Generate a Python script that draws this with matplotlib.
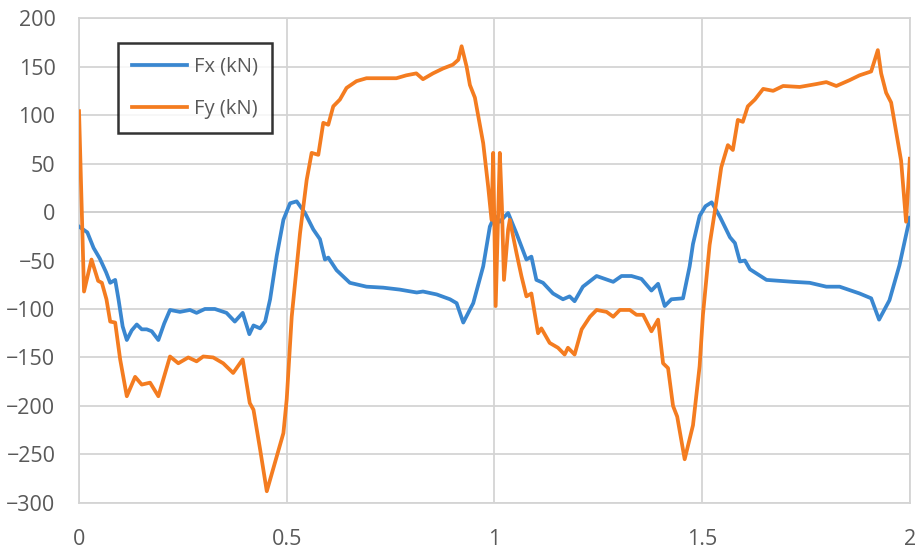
import matplotlib
matplotlib.use('Agg')
import matplotlib.pyplot as plt

plt.rcParams['font.family'] = ['Open Sans', 'DejaVu Sans']

# Fx (kN) - time / value pairs
fx_t = [0.0, 0.02, 0.035, 0.05, 0.065, 0.075, 0.087, 0.095, 0.105, 0.115,
        0.127, 0.139, 0.151, 0.163, 0.175, 0.191, 0.205, 0.219, 0.243, 0.267,
        0.283, 0.303, 0.327, 0.355, 0.375, 0.394, 0.41, 0.42, 0.436, 0.448,
        0.46, 0.476, 0.492, 0.508, 0.524, 0.544, 0.564, 0.58, 0.592, 0.6,
        0.62, 0.652, 0.692, 0.732, 0.772, 0.813, 0.828, 0.861, 0.893, 0.909,
        0.925, 0.949, 0.973, 0.989, 1.001, 1.013, 1.033, 1.053, 1.077, 1.089,
        1.101, 1.117, 1.141, 1.165, 1.181, 1.193, 1.213, 1.246, 1.286, 1.306,
        1.33, 1.354, 1.378, 1.394, 1.41, 1.426, 1.454, 1.47, 1.478, 1.494,
        1.508, 1.523, 1.543, 1.567, 1.579, 1.591, 1.603, 1.615, 1.655, 1.719,
        1.759, 1.799, 1.831, 1.879, 1.907, 1.926, 1.951, 1.975, 2.0]
fx_v = [-15, -21, -37, -48, -62, -73, -70, -90, -118, -132,
        -122, -116, -121, -121, -123, -132, -115, -101, -103, -101,
        -104, -100, -100, -104, -113, -104, -126, -117, -120, -113,
        -90, -45, -8, 9, 11, -1, -18, -28, -49, -47,
        -60, -73, -77, -78, -80, -83, -82, -85, -90, -94,
        -114, -94, -56, -15, -4, -10, -1, -22, -49, -46,
        -70, -73, -84, -90, -87, -92, -77, -66, -72, -66,
        -66, -69, -81, -74, -97, -90, -89, -56, -33, -4,
        6, 10, -5, -26, -32, -51, -50, -59, -70, -72,
        -73, -77, -77, -84, -89, -111, -91, -55, -6]

# Fy (kN)
fy_t = [0.0, 0.012, 0.03, 0.046, 0.055, 0.066, 0.075, 0.087, 0.099, 0.115,
        0.135, 0.151, 0.171, 0.191, 0.219, 0.239, 0.263, 0.283, 0.299, 0.323,
        0.347, 0.371, 0.394, 0.411, 0.42, 0.436, 0.452, 0.476, 0.492, 0.5,
        0.512, 0.532, 0.548, 0.56, 0.576, 0.588, 0.6, 0.612, 0.628, 0.644,
        0.668, 0.692, 0.732, 0.764, 0.788, 0.812, 0.828, 0.852, 0.876, 0.9,
        0.913, 0.921, 0.933, 0.941, 0.953, 0.973, 0.985, 0.993, 0.997, 1.003,
        1.013, 1.018, 1.023, 1.033, 1.037, 1.053, 1.065, 1.077, 1.089, 1.105,
        1.113, 1.133, 1.153, 1.169, 1.177, 1.193, 1.21, 1.23, 1.246, 1.27,
        1.286, 1.302, 1.326, 1.342, 1.358, 1.378, 1.394, 1.406, 1.418, 1.43,
        1.44, 1.458, 1.478, 1.494, 1.502, 1.518, 1.534, 1.546, 1.562, 1.574,
        1.586, 1.598, 1.61, 1.627, 1.647, 1.671, 1.695, 1.735, 1.775, 1.799,
        1.823, 1.855, 1.879, 1.907, 1.923, 1.931, 1.943, 1.955, 1.979, 1.991,
        2.0]
fy_v = [104, -82, -49, -71, -73, -90, -113, -114, -152, -190,
        -170, -178, -176, -190, -149, -156, -150, -154, -149, -150,
        -156, -166, -152, -197, -204, -245, -288, -252, -228, -193,
        -108, -22, 33, 61, 59, 92, 90, 109, 116, 128,
        135, 138, 138, 138, 141, 143, 137, 143, 148, 152,
        157, 171, 150, 131, 118, 71, 26, -8, 61, -97,
        61, 6, -70, -18, -8, -42, -66, -87, -84, -125,
        -120, -135, -140, -147, -140, -147, -121, -108, -101, -103,
        -108, -101, -101, -106, -106, -123, -111, -156, -161, -200,
        -211, -255, -220, -159, -106, -34, 10, 46, 69, 64,
        95, 93, 109, 116, 127, 125, 130, 129, 132, 134,
        130, 136, 141, 145, 167, 143, 123, 113, 53, -10,
        55]

x_ticks = [0, 0.5, 1, 1.5, 2]
x_labels = ['0', '0.5', '1', '1.5', '2']
y_ticks = [-300, -250, -200, -150, -100, -50, 0, 50, 100, 150, 200]

fig = plt.figure(figsize=(9.19, 5.49), dpi=100)
ax = fig.add_axes([0.086, 0.084, 0.904, 0.883])

ax.plot(fx_t, fx_v, color='#3a87d0', linewidth=2.7, label='Fx (kN)',
        solid_joinstyle='round', zorder=3)
ax.plot(fy_t, fy_v, color='#f47c20', linewidth=2.7, label='Fy (kN)',
        solid_joinstyle='round', zorder=3)

ax.set_xlim(0, 2)
ax.set_ylim(-300, 200)
ax.set_xticks(x_ticks)
ax.set_xticklabels(x_labels)
ax.set_yticks(y_ticks)
ax.grid(True, color='#d4d4d4', linewidth=1.3, zorder=0)
ax.axhline(0, color='#a6a6a6', linewidth=1.3, zorder=1)
for s in ax.spines.values():
    s.set_color('#d4d4d4')
    s.set_linewidth(1.3)
ax.tick_params(length=0, labelsize=15.5, labelcolor='#595959')
ax.tick_params(axis='y', pad=17)
ax.tick_params(axis='x', pad=19)

leg = ax.legend(loc='upper left', bbox_to_anchor=(0.047, 0.949),
                borderaxespad=0, fontsize=14.5, frameon=True, fancybox=False,
                handlelength=2.7, handletextpad=0.35, labelspacing=1.1,
                borderpad=0.7)
leg.get_frame().set_edgecolor('black')
leg.get_frame().set_linewidth(1.8)
for txt in leg.get_texts():
    txt.set_color('#595959')

plt.savefig('out.png', dpi=100, facecolor='white')
